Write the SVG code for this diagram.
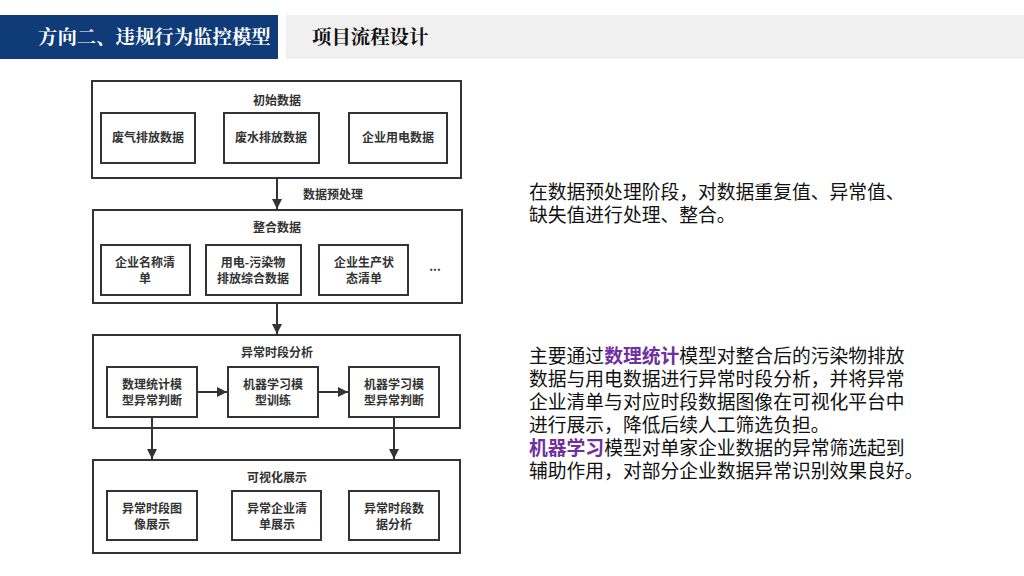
<svg xmlns="http://www.w3.org/2000/svg" width="1024" height="576" viewBox="0 0 1024 576">
<defs>
<style>
.box{fill:#fff;stroke:#333;stroke-width:2}
.t{font-family:"Noto Sans CJK SC","Noto Sans",sans-serif;font-size:12px;font-weight:bold;fill:#333;text-anchor:middle}
.lbl{font-family:"Noto Sans CJK SC","Noto Sans",sans-serif;font-size:12px;font-weight:bold;fill:#333}
.c{stroke:#333;stroke-width:2;fill:none;marker-end:url(#ah)}
.p{font-family:"Noto Sans CJK SC","Noto Sans",sans-serif;font-size:18.8px;fill:#111}
.hl{fill:#7030A0;font-weight:bold}
.hd{font-family:"Noto Serif CJK SC","Noto Sans CJK SC",serif;font-size:19.4px;font-weight:bold}
</style>
<marker id="ah" viewBox="0 0 10 10" refX="10" refY="5" markerWidth="5" markerHeight="5" markerUnits="strokeWidth" orient="auto">
<path d="M0,0 L10,5 L0,10 z" fill="#333"/>
</marker>
</defs>
<rect width="1024" height="576" fill="#fff"/>
<g id="header">
<rect x="0" y="15" width="278" height="44" fill="#0F3C78"/>
<rect x="286" y="15" width="738" height="44" fill="#F0F0F0"/>
<text class="hd" x="38" y="44" fill="#fff">方向二、违规行为监控模型</text>
<text class="hd" x="312" y="44" fill="#111">项目流程设计</text>
</g>
<g id="g1">
<rect class="box" x="92" y="81" width="369" height="97"/>
<text class="t" x="277" y="105">初始数据</text>
</g>
<g id="n1a"><rect class="box" x="101" y="113" width="94" height="50"/><text class="t" x="148" y="142">废气排放数据</text></g>
<g id="n1b"><rect class="box" x="224" y="113" width="95" height="50"/><text class="t" x="271" y="142">废水排放数据</text></g>
<g id="n1c"><rect class="box" x="349" y="113" width="98" height="50"/><text class="t" x="398" y="142">企业用电数据</text></g>
<g id="g2">
<rect class="box" x="93" y="210" width="369" height="93"/>
<text class="t" x="277" y="232">整合数据</text>
<text class="t" x="435" y="271">...</text>
</g>
<g id="n2a"><rect class="box" x="101" y="245" width="89" height="50"/><text class="t" x="145" y="267">企业名称清</text><text class="t" x="145" y="283">单</text></g>
<g id="n2b"><rect class="box" x="206" y="245" width="95" height="50"/><text class="t" x="253" y="267">用电-污染物</text><text class="t" x="253" y="283">排放综合数据</text></g>
<g id="n2c"><rect class="box" x="319" y="245" width="89" height="50"/><text class="t" x="364" y="267">企业生产状</text><text class="t" x="364" y="283">态清单</text></g>
<g id="g3">
<rect class="box" x="93" y="335" width="367" height="93"/>
<text class="t" x="277" y="357">异常时段分析</text>
</g>
<g id="n3a"><rect class="box" x="107" y="367" width="90" height="50"/><text class="t" x="152" y="389">数理统计模</text><text class="t" x="152" y="405">型异常判断</text></g>
<g id="n3b"><rect class="box" x="228" y="367" width="90" height="50"/><text class="t" x="273" y="389">机器学习模</text><text class="t" x="273" y="405">型训练</text></g>
<g id="n3c"><rect class="box" x="349" y="367" width="90" height="50"/><text class="t" x="394" y="389">机器学习模</text><text class="t" x="394" y="405">型异常判断</text></g>
<g id="g4">
<rect class="box" x="93" y="460" width="367" height="93"/>
<text class="t" x="277" y="482">可视化展示</text>
</g>
<g id="n4a"><rect class="box" x="107" y="491" width="90" height="49"/><text class="t" x="152" y="513">异常时段图</text><text class="t" x="152" y="529">像展示</text></g>
<g id="n4b"><rect class="box" x="232" y="491" width="89" height="49"/><text class="t" x="277" y="513">异常企业清</text><text class="t" x="277" y="529">单展示</text></g>
<g id="n4c"><rect class="box" x="349" y="491" width="90" height="49"/><text class="t" x="394" y="513">异常时段数</text><text class="t" x="394" y="529">据分析</text></g>
<g id="connectors">
<line class="c" x1="277" y1="178" x2="277" y2="209"/>
<text class="lbl" x="303" y="199">数据预处理</text>
<line class="c" x1="277" y1="303" x2="277" y2="334"/>
<line class="c" x1="197" y1="392" x2="227" y2="392"/>
<line class="c" x1="318" y1="392" x2="348" y2="392"/>
<line class="c" x1="152" y1="417" x2="152" y2="459"/>
<line class="c" x1="394" y1="417" x2="394" y2="459"/>
</g>
<g id="notes">
<text class="p" x="529" y="199">在数据预处理阶段，对数据重复值、异常值、</text>
<text class="p" x="529" y="222">缺失值进行处理、整合。</text>
<text class="p" x="529" y="363">主要通过<tspan class="hl">数理统计</tspan>模型对整合后的污染物排放</text>
<text class="p" x="529" y="386">数据与用电数据进行异常时段分析，并将异常</text>
<text class="p" x="529" y="409">企业清单与对应时段数据图像在可视化平台中</text>
<text class="p" x="529" y="432">进行展示，降低后续人工筛选负担。</text>
<text class="p" x="529" y="455"><tspan class="hl">机器学习</tspan>模型对单家企业数据的异常筛选起到</text>
<text class="p" x="529" y="478">辅助作用，对部分企业数据异常识别效果良好。</text>
</g>
</svg>
